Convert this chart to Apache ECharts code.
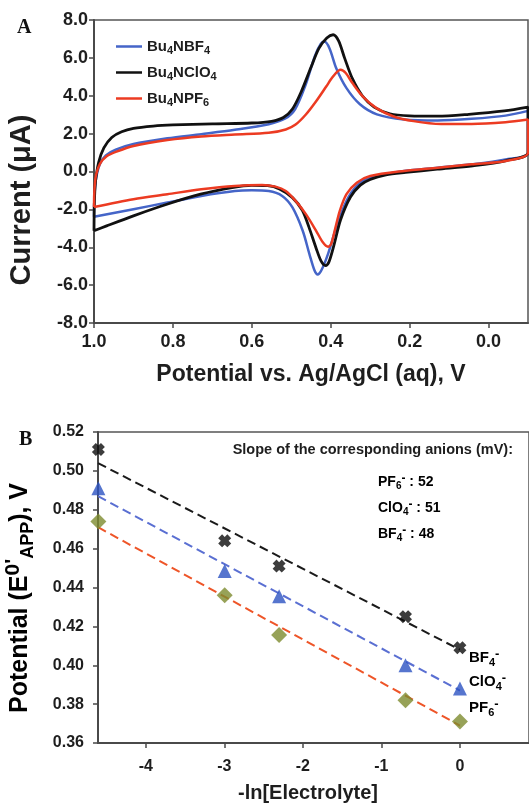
<!DOCTYPE html>
<html>
<head>
<meta charset="utf-8">
<script src="https://cdn.jsdelivr.net/npm/echarts@6.0.0/dist/echarts.min.js"></script>
<style>
  html, body { margin: 0; padding: 0; background: #fff; }
  #chart { width: 529px; height: 807px; }
</style>
</head>
<body>
<div id="chart"></div>
<script>
  // panel A: cyclic voltammograms, [potential V, current uA], upper branch then lower branch
  const cvBF4 = [
    [1.000, -2.39], [0.999, -1.40], [0.995, -0.40], [0.985, 0.40], [0.970, 0.85], [0.945, 1.15],
    [0.900, 1.45], [0.814, 1.75], [0.728, 1.97], [0.643, 2.20], [0.557, 2.50], [0.515, 2.80],
    [0.490, 3.30], [0.465, 4.50], [0.440, 6.10], [0.425, 6.75], [0.416, 6.86], [0.403, 6.50],
    [0.386, 5.45], [0.360, 4.40], [0.326, 3.55], [0.283, 3.02], [0.214, 2.75], [0.129, 2.69],
    [0.043, 2.78], [-0.043, 2.95], [-0.100, 3.20],
    [-0.100, 0.98], [-0.043, 0.64], [0.043, 0.38], [0.129, 0.20], [0.214, 0.03], [0.300, -0.32],
    [0.334, -0.76], [0.360, -1.55], [0.386, -2.95], [0.407, -4.36], [0.424, -5.23], [0.433, -5.44],
    [0.441, -5.23], [0.454, -4.36], [0.471, -3.13], [0.497, -1.90], [0.523, -1.29], [0.557, -1.03],
    [0.600, -0.99], [0.643, -1.03], [0.728, -1.29], [0.814, -1.64], [0.900, -1.99], [1.000, -2.39]
  ]
  const cvClO4 = [
    [1.000, -3.13], [0.999, -1.60], [0.996, -0.50], [0.988, 0.50], [0.975, 1.25], [0.955, 1.80],
    [0.930, 2.10], [0.900, 2.28], [0.850, 2.40], [0.800, 2.46], [0.700, 2.52], [0.600, 2.56],
    [0.550, 2.65], [0.520, 2.85], [0.497, 3.30], [0.475, 4.20], [0.450, 5.50], [0.430, 6.50],
    [0.410, 7.05], [0.394, 7.22], [0.380, 6.90], [0.365, 6.00], [0.345, 4.90], [0.320, 4.00],
    [0.290, 3.40], [0.250, 3.05], [0.200, 2.94], [0.130, 2.92], [0.050, 3.02], [-0.040, 3.20],
    [-0.100, 3.40],
    [-0.100, 1.00], [-0.045, 0.58], [0.040, 0.30], [0.130, 0.12], [0.210, -0.05], [0.260, -0.18],
    [0.300, -0.42], [0.325, -0.72], [0.350, -1.35], [0.375, -2.55], [0.392, -3.90], [0.405, -4.80],
    [0.413, -4.97], [0.424, -4.75], [0.437, -4.05], [0.455, -2.95], [0.472, -2.05], [0.497, -1.38],
    [0.530, -0.92], [0.560, -0.75], [0.600, -0.73], [0.650, -0.85], [0.730, -1.20], [0.815, -1.73],
    [0.900, -2.34], [0.968, -2.87], [1.000, -3.13]
  ]
  const cvPF6 = [
    [1.000, -1.87], [0.999, -1.00], [0.995, -0.20], [0.985, 0.40], [0.968, 0.80], [0.943, 1.05],
    [0.900, 1.35], [0.814, 1.66], [0.728, 1.85], [0.643, 1.95], [0.557, 2.04], [0.514, 2.22],
    [0.489, 2.48], [0.463, 3.01], [0.437, 3.71], [0.411, 4.50], [0.394, 5.02], [0.375, 5.37],
    [0.362, 5.20], [0.345, 4.67], [0.319, 3.97], [0.285, 3.36], [0.242, 2.92], [0.190, 2.66],
    [0.120, 2.51], [0.043, 2.51], [-0.043, 2.60], [-0.100, 2.74],
    [-0.100, 0.99], [-0.043, 0.55], [0.043, 0.38], [0.129, 0.20], [0.214, 0.03], [0.300, -0.24],
    [0.334, -0.59], [0.360, -1.20], [0.377, -2.08], [0.390, -3.13], [0.399, -3.83], [0.407, -3.97],
    [0.420, -3.74], [0.437, -3.13], [0.463, -2.25], [0.489, -1.55], [0.514, -1.03], [0.540, -0.80],
    [0.574, -0.71], [0.643, -0.76], [0.728, -0.94], [0.814, -1.20], [0.900, -1.46], [1.000, -1.87]
  ]
  const potentialTicks = [0, 0.2, 0.4, 0.6, 0.8, 1.0]

  // panel B: apparent potential vs ln[electrolyte]
  const lnConc = [-4.605, -2.996, -2.303, -0.693, 0]
  const eBF4 = [0.511, 0.464, 0.451, 0.425, 0.409]
  const eClO4 = [0.491, 0.4485, 0.4355, 0.400, 0.388]
  const ePF6 = [0.474, 0.436, 0.4155, 0.382, 0.371]
  // dashed fit lines, read at the two ends
  const fitX = [-4.61, 0]
  const fitBF4 = [0.504, 0.408]
  const fitClO4 = [0.487, 0.387]
  const fitPF6 = [0.471, 0.369]
  const lnTicks = [-4, -3, -2, -1, 0]

  const FONT = '"Liberation Sans", Arial, sans-serif'
  const AXIS = '#4a4a4a'
  const TXT = '#1e1e1e'

  function rich (size) {
    const sub = Math.round(size * 0.72)
    return {
      b: { fontSize: size, fontWeight: 'bold', fontFamily: FONT, color: TXT },
      s: { fontSize: sub, fontWeight: 'bold', fontFamily: FONT, color: TXT, verticalAlign: 'bottom', padding: [Math.round(size * 0.5), 0, 0, 0] },
      p: { fontSize: Math.round(size * 0.85), fontWeight: 'bold', fontFamily: FONT, color: TXT, verticalAlign: 'top', padding: [0, 0, Math.round(size * 0.5), 0] }
    }
  }
  const pairs = (xs, ys) => xs.map((x, i) => [x, ys[i]])

  const legendText = {
    Bu4NBF4: '{b|Bu}{s|4}{b|NBF}{s|4}',
    Bu4NClO4: '{b|Bu}{s|4}{b|NClO}{s|4}',
    Bu4NPF6: '{b|Bu}{s|4}{b|NPF}{s|6}'
  }

  const chart = echarts.init(document.getElementById('chart'))

  const valueAxis = (extra) => Object.assign({
    type: 'value',
    splitLine: { show: false },
    axisLine: { show: true, onZero: false, lineStyle: { color: AXIS, width: 2 } },
    axisTick: { show: true, length: 5, lineStyle: { color: AXIS, width: 1.5 } }
  }, extra)

  chart.setOption({
    animation: false,
    grid: [
      { left: 94, top: 20, width: 434, height: 303, show: true, borderColor: '#555', borderWidth: 1.5 },
      { left: 98, top: 432, width: 433, height: 311, show: true, borderColor: '#555', borderWidth: 1.5 }
    ],
    xAxis: [
      valueAxis({
        gridIndex: 0, min: -0.1, max: 1.0, inverse: true,
        axisTick: { show: true, customValues: potentialTicks, length: 5, lineStyle: { color: AXIS, width: 1.5 } },
        axisLabel: { customValues: potentialTicks, formatter: v => v.toFixed(1), fontSize: 18, fontWeight: 'bold', fontFamily: FONT, color: TXT, margin: 10 }
      }),
      valueAxis({
        gridIndex: 1, min: -4.61, max: 0.88,
        axisTick: { show: true, customValues: lnTicks, length: 5, lineStyle: { color: AXIS, width: 1.5 } },
        axisLabel: { customValues: lnTicks, formatter: v => v.toFixed(0), fontSize: 16, fontWeight: 'bold', fontFamily: FONT, color: TXT, margin: 16 }
      })
    ],
    yAxis: [
      valueAxis({
        gridIndex: 0, min: -8, max: 8, interval: 2,
        axisLabel: { formatter: v => v.toFixed(1), fontSize: 18, fontWeight: 'bold', fontFamily: FONT, color: TXT, margin: 6 }
      }),
      valueAxis({
        gridIndex: 1, min: 0.36, max: 0.52, interval: 0.02,
        axisLabel: { formatter: v => v.toFixed(2), fontSize: 16, fontWeight: 'bold', fontFamily: FONT, color: TXT, margin: 14 }
      })
    ],
    legend: {
      data: ['Bu4NBF4', 'Bu4NClO4', 'Bu4NPF6'],
      orient: 'vertical', left: 111, top: 34,
      icon: 'rect', itemWidth: 26, itemHeight: 2.5, itemGap: 9,
      formatter: name => legendText[name],
      textStyle: { rich: rich(15) }
    },
    series: [
      { name: 'Bu4NBF4', type: 'line', xAxisIndex: 0, yAxisIndex: 0, data: cvBF4, smooth: 0.3, symbol: 'none', color: '#4565c8', lineStyle: { width: 2.5 } },
      { name: 'Bu4NClO4', type: 'line', xAxisIndex: 0, yAxisIndex: 0, data: cvClO4, smooth: 0.3, symbol: 'none', color: '#111111', lineStyle: { width: 2.8 } },
      { name: 'Bu4NPF6', type: 'line', xAxisIndex: 0, yAxisIndex: 0, data: cvPF6, smooth: 0.3, symbol: 'none', color: '#ec3b22', lineStyle: { width: 2.5 } },

      { type: 'line', xAxisIndex: 1, yAxisIndex: 1, data: pairs(fitX, fitBF4), symbol: 'none', color: '#1a1a1a', lineStyle: { width: 2, type: [9, 5] } },
      { type: 'line', xAxisIndex: 1, yAxisIndex: 1, data: pairs(fitX, fitClO4), symbol: 'none', color: '#5a6fd2', lineStyle: { width: 2, type: [9, 5] } },
      { type: 'line', xAxisIndex: 1, yAxisIndex: 1, data: pairs(fitX, fitPF6), symbol: 'none', color: '#ee5528', lineStyle: { width: 2, type: [9, 5] } },

      { type: 'scatter', xAxisIndex: 1, yAxisIndex: 1, data: pairs(lnConc, eBF4), symbol: 'path://M0,3 L3,0 L5,2 L7,0 L10,3 L8,5 L10,7 L7,10 L5,8 L3,10 L0,7 L2,5 Z', symbolSize: 13, itemStyle: { color: '#0d0d0d' }, z: 5 },
      { type: 'scatter', xAxisIndex: 1, yAxisIndex: 1, data: pairs(lnConc, eClO4), symbol: 'triangle', symbolSize: 14, itemStyle: { color: '#2c52c2' }, z: 5 },
      { type: 'scatter', xAxisIndex: 1, yAxisIndex: 1, data: pairs(lnConc, ePF6), symbol: 'diamond', symbolSize: 16, itemStyle: { color: '#7d8b2e' }, z: 5 }
    ],
    graphic: [
      { type: 'text', x: 17, y: 18, style: { text: 'A', font: 'bold 20px "Liberation Serif", serif', fill: '#111' } },
      { type: 'text', x: 19, y: 430, style: { text: 'B', font: 'bold 20px "Liberation Serif", serif', fill: '#111' } },
      { type: 'text', x: 22, y: 200, rotation: Math.PI / 2, style: { text: 'Current (μA)', font: 'bold 29px ' + FONT, fill: TXT, align: 'center', verticalAlign: 'middle' } },
      { type: 'text', x: 311, y: 375, style: { text: 'Potential vs. Ag/AgCl (aq), V', font: 'bold 23px ' + FONT, fill: TXT, align: 'center', verticalAlign: 'middle' } },
      { type: 'text', x: 20, y: 598, rotation: Math.PI / 2, style: { text: '{b|Potential (E}{p|0\'}{s|APP}{b|), V}', rich: rich(25), align: 'center', verticalAlign: 'middle' } },
      { type: 'text', x: 308, y: 793, style: { text: '-ln[Electrolyte]', font: 'bold 20px ' + FONT, fill: TXT, align: 'center', verticalAlign: 'middle' } },
      { type: 'text', x: 513, y: 450, style: { text: 'Slope of the corresponding anions (mV):', font: 'bold 14.5px ' + FONT, fill: TXT, align: 'right', verticalAlign: 'middle' } },
      { type: 'text', x: 378, y: 482, style: { text: '{b|PF}{s|6}{p|-}{b| : 52}', rich: rich(14), verticalAlign: 'middle' } },
      { type: 'text', x: 378, y: 508, style: { text: '{b|ClO}{s|4}{p|-}{b| : 51}', rich: rich(14), verticalAlign: 'middle' } },
      { type: 'text', x: 378, y: 534, style: { text: '{b|BF}{s|4}{p|-}{b| : 48}', rich: rich(14), verticalAlign: 'middle' } },
      { type: 'text', x: 469, y: 658, style: { text: '{b|BF}{s|4}{p|-}', rich: rich(15), verticalAlign: 'middle' } },
      { type: 'text', x: 469, y: 682, style: { text: '{b|ClO}{s|4}{p|-}', rich: rich(15), verticalAlign: 'middle' } },
      { type: 'text', x: 469, y: 708, style: { text: '{b|PF}{s|6}{p|-}', rich: rich(15), verticalAlign: 'middle' } }
    ]
  })
</script>
</body>
</html>
